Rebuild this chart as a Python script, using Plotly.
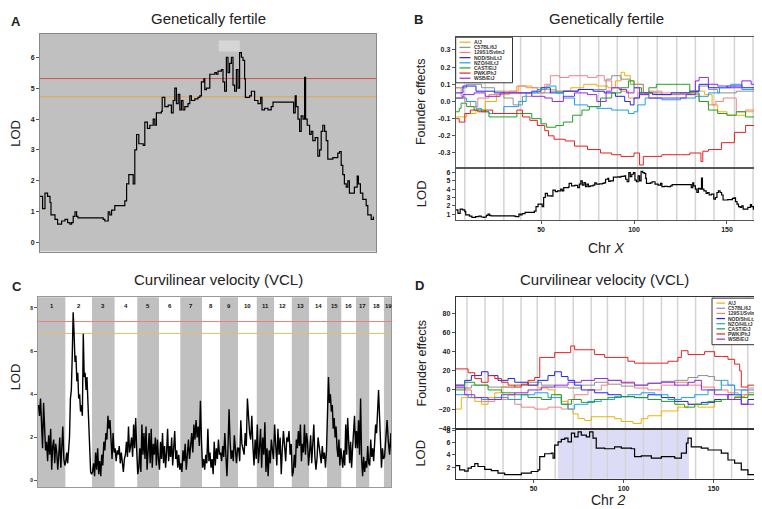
import plotly.graph_objects as go

W, H = 762, 509
FONT = "Liberation Sans"

# ---------------- Chr X LOD scan (Genetically fertile) : panels A and B ----------------
chrx_pos = [4.0, 5.3, 6.5, 7.8, 9.0, 9.5, 11.5, 12.8, 14.8, 16.5,
            17.8, 19.0, 19.8, 20.6, 21.5, 22.3, 23.0, 35.6, 36.4, 38.1,
            38.9, 39.8, 41.4, 45.6, 46.4, 47.3, 48.4, 49.8, 50.6, 51.4,
            52.3, 53.4, 55.6, 56.4, 57.7, 58.9, 60.6, 61.4, 62.2, 64.7,
            65.1, 66.4, 68.1, 69.7, 70.6, 71.4, 72.2, 73.1, 73.9, 74.7,
            75.5, 76.4, 78.0, 78.9, 79.7, 81.4, 83.0, 83.9, 84.7, 85.9,
            86.4, 87.2, 88.9, 91.4, 92.2, 93.0, 94.7, 95.5, 96.3, 97.2,
            98.0, 98.8, 99.7, 100.5, 101.3, 102.2, 103.0, 103.8, 104.7, 105.5,
            106.3, 106.7, 107.2, 108.8, 109.7, 111.3, 113.0, 114.3, 115.0, 116.3,
            118.0, 119.6, 120.5, 123.8, 130.5, 130.8, 131.6, 132.1, 133.0, 133.8,
            134.6, 135.5, 136.3, 136.8, 137.6, 138.8, 139.6, 140.4, 141.6, 142.9,
            143.8, 144.6, 145.4, 146.3, 147.1, 147.9, 150.4, 152.9, 153.8, 154.6,
            155.4, 156.2, 157.1, 157.9, 158.7, 160.4, 161.2, 162.6, 163.2, 164.2,
            165.4, 167.1, 167.9, 169.6, 170.7]
chrx_lod = [1.5, 1.1, 1.6, 1.5, 1.3, 0.9, 0.75, 0.6, 0.7, 0.75,
            0.65, 0.6, 0.65, 0.85, 1.0, 0.85, 0.8, 0.75, 0.7, 1.0,
            0.9, 1.05, 1.2, 1.2, 1.35, 1.9, 2.2, 2.2, 1.9, 3.0,
            3.5, 3.2, 3.15, 3.9, 3.7, 3.8, 4.0, 3.8, 4.2, 4.25,
            4.7, 4.4, 4.45, 4.2, 4.6, 5.0, 4.5, 4.8, 4.3, 4.6,
            4.3, 4.4, 4.5, 4.75, 4.6, 4.65, 4.7, 4.75, 5.2, 5.3,
            4.95, 5.0, 5.45, 5.5, 5.45, 5.55, 5.6, 5.2, 4.9, 6.0,
            5.5, 5.8, 6.0, 5.1, 4.9, 5.6, 5.0, 6.15, 6.0, 5.9,
            5.3, 4.7, 4.7, 4.75, 4.9, 4.6, 4.5, 4.7, 4.3, 4.35,
            4.3, 4.4, 4.55, 4.55, 4.55, 4.2, 4.75, 4.4, 4.0, 3.6,
            4.1, 4.0, 5.35, 4.0, 3.8, 3.5, 3.6, 3.3, 3.4, 2.8,
            3.0, 3.6, 3.8, 3.6, 3.3, 2.7, 2.75, 2.9, 2.95, 2.5,
            2.2, 1.9, 1.8, 2.0, 1.6, 1.6, 1.8, 2.15, 1.9, 1.6,
            1.4, 1.2, 0.9, 0.75, 0.85]
a_thresholds = [5.31, 4.72]          # red, orange
a_peak_box = [93.4, 103.9, 6.19, 6.54]

founders = ["A/J", "C57BL/6J", "129S1/SvImJ", "NOD/ShiLtJ", "NZO/HlLtJ", "CAST/EiJ", "PWK/PhJ", "WSB/EiJ"]
founder_colors = ["#F2B000", "#909090", "#F08080", "#2222E6", "#1AA0F0", "#22A022", "#E62020", "#9428E0"]

# Founder effects on Chr X (panel B)
bx_aj = [4, 10, 15, 20, 26, 33, 38, 45, 52, 58, 66, 73, 80, 86, 90, 93, 95, 98, 100, 105, 112, 125, 132, 138, 142, 145, 150, 155, 160, 165, 172]
by_aj = [-0.09, -0.07, -0.05, 0.0, 0.04, 0.06, 0.09, 0.08, 0.07, 0.06, 0.08, 0.1, 0.09, 0.08, 0.12, 0.17, 0.15, 0.12, 0.1, 0.05, 0.04, 0.05, 0.06, 0.04, -0.02, -0.06, -0.08, -0.08, -0.06, -0.04, -0.03]
bx_b6 = [4, 10, 18, 25, 30, 35, 40, 45, 55, 70, 80, 85, 88, 93, 98, 105, 115, 125, 130, 135, 140, 145, 155, 165, 172]
by_b6 = [0.08, 0.1, 0.08, 0.06, 0.02, -0.02, 0.03, 0.05, 0.06, 0.07, 0.07, 0.13, 0.15, 0.13, 0.1, 0.05, 0.04, 0.04, 0.06, 0.09, 0.07, 0.05, 0.06, 0.04, 0.03]
bx_129 = [4, 7, 9, 12, 16, 22, 30, 37, 42, 48, 52, 55, 60, 65, 75, 80, 84, 88, 93, 97, 102, 108, 115, 125, 130, 135, 140, 144, 148, 153, 155, 160, 165, 172]
by_129 = [0.08, 0.03, 0.0, -0.03, 0.02, 0.04, 0.06, 0.09, 0.08, 0.05, 0.1, 0.15, 0.14, 0.15, 0.14, 0.15, 0.12, 0.08, 0.06, 0.02, 0.05, 0.06, 0.05, 0.05, 0.04, 0.0, -0.02, 0.0, 0.02, 0.02, -0.06, -0.05, -0.06, -0.03]
bx_nod = [4, 8, 15, 25, 35, 45, 50, 55, 62, 70, 78, 84, 90, 95, 98, 100, 103, 110, 120, 130, 135, 140, 150, 158, 165, 172]
by_nod = [0.05, 0.09, 0.06, 0.05, 0.05, 0.06, 0.08, 0.05, 0.06, 0.07, 0.06, 0.05, 0.03, 0.0, -0.02, 0.02, 0.05, 0.04, 0.05, 0.06, 0.1, 0.08, 0.09, 0.08, 0.06, 0.05]
bx_nzo = [4, 10, 15, 18, 22, 30, 38, 42, 48, 53, 58, 62, 68, 75, 80, 88, 93, 97, 100, 102, 106, 115, 125, 133, 140, 146, 152, 158, 165, 172]
by_nzo = [0.02, 0.0, -0.04, -0.06, -0.07, -0.03, 0.0, 0.05, 0.07, 0.09, 0.05, 0.02, -0.02, -0.03, -0.04, -0.05, -0.05, -0.07, -0.06, -0.02, 0.02, 0.01, 0.02, 0.03, 0.05, 0.08, 0.1, 0.07, 0.04, 0.02]
bx_cast = [4, 6, 7, 10, 14, 20, 22, 37, 45, 50, 53, 58, 62, 67, 72, 76, 82, 88, 93, 97, 100, 104, 108, 112, 125, 130, 135, 140, 145, 150, 155, 160, 165, 172]
by_cast = [-0.06, -0.04, -0.01, -0.03, -0.05, -0.06, -0.09, -0.07, -0.1, -0.13, -0.15, -0.14, -0.12, -0.08, -0.05, -0.03, 0.02, 0.05, 0.08, 0.12, 0.08, 0.04, 0.08, 0.1, 0.1, 0.05, 0.0, -0.05, -0.07, -0.08, -0.06, -0.09, -0.05, -0.04]
bx_pwk = [4, 6, 9, 12, 16, 20, 24, 37, 40, 44, 48, 52, 54, 57, 63, 68, 75, 82, 88, 93, 100, 103, 105, 108, 115, 125, 130, 136, 137, 140, 147, 154, 160, 165, 170, 172]
by_pwk = [-0.1, -0.12, -0.07, -0.05, -0.06, -0.05, -0.07, -0.05, -0.09, -0.11, -0.14, -0.17, -0.2, -0.22, -0.23, -0.26, -0.28, -0.3, -0.31, -0.32, -0.3, -0.37, -0.32, -0.32, -0.31, -0.31, -0.3, -0.35, -0.29, -0.28, -0.24, -0.18, -0.14, -0.15, -0.1, -0.09]
bx_wsb = [4, 8, 14, 20, 28, 38, 45, 52, 56, 62, 68, 75, 80, 85, 88, 92, 96, 100, 103, 108, 120, 128, 133, 135, 140, 145, 150, 158, 163, 168, 172]
by_wsb = [0.02, 0.04, 0.05, 0.03, 0.05, 0.05, 0.03, 0.02, 0.0, 0.03, 0.05, 0.04, 0.0, 0.06, 0.08, 0.07, 0.05, 0.08, 0.04, 0.02, 0.02, 0.04, 0.12, 0.14, 0.1, 0.09, 0.08, 0.12, 0.1, 0.07, 0.07]
b_marker_lines = [9, 20, 30, 39, 50, 60, 71, 81, 91, 102, 112.5, 123, 133, 143, 154, 164]

# ---------------- Genome scan (Curvilinear velocity) : panel C ----------------
chr_names = [str(i) for i in range(1, 20)]
chr_len = [190, 185, 157, 157, 151, 148, 151, 125, 125, 130, 120, 123, 120, 125, 99, 102, 92, 102, 61]
lod_c1 = [3.5, 3.0, 3.8, 2.6, 1.5, 3.6, 2.0, 1.4, 1.8, 0.9, 2.1, 1.2, 2.4, 0.5, 1.6, 1.9, 0.8, 1.7, 1.3, 0.5, 1.2, 2.0, 0.6, 1.4, 2.5, 1.0, 0.7]
lod_c2 = [0.9, 1.3, 0.8, 1.4, 2.0, 3.8, 4.2, 5.8, 7.8, 6.8, 5.5, 5.8, 4.6, 5.0, 3.8, 4.0, 3.2, 3.5, 3.0, 6.8, 4.8, 5.0, 4.2, 4.8, 3.8, 2.5, 1.2, 0.4, 0.3]
lod_c3 = [0.4, 0.8, 0.2, 1.3, 0.5, 1.5, 0.3, 0.9, 0.2, 1.2, 0.7, 1.8, 1.4, 2.2, 1.9, 3.0, 2.4, 2.8, 1.6, 1.0, 2.2, 1.3]
lod_c4 = [1.5, 0.9, 1.4, 1.2, 1.6, 0.8, 1.3, 0.6, 0.4, 1.0, 1.2, 1.8, 1.1, 2.5, 1.3, 1.6, 2.0, 1.1, 2.6, 1.5, 2.9, 1.4]
lod_c5 = [0.3, 0.6, 1.5, 0.4, 2.6, 1.2, 2.2, 1.0, 2.5, 0.5, 1.3, 2.2, 0.8, 2.4, 0.6, 1.7, 1.2, 2.0, 0.7, 1.9, 1.0]
lod_c6 = [0.5, 1.8, 1.0, 2.2, 0.8, 1.6, 0.6, 1.3, 2.4, 0.9, 1.6, 1.1, 2.0, 0.7, 1.5, 2.3, 1.0, 1.4, 0.6, 1.2, 0.5]
lod_c7 = [0.8, 0.4, 1.4, 0.9, 1.7, 0.5, 1.2, 1.9, 1.0, 1.6, 2.2, 1.3, 2.6, 1.9, 2.8, 2.0, 2.5, 1.6, 3.7, 1.8]
lod_c8 = [0.6, 1.0, 0.5, 1.2, 0.8, 2.4, 0.9, 1.3, 0.6, 1.0, 0.3, 1.8, 0.7, 1.5, 1.0, 1.9, 1.2]
lod_c9 = [1.3, 0.9, 1.6, 1.1, 2.2, 1.2, 0.2, 1.5, 3.3, 1.8, 1.0, 1.4, 0.9, 2.1, 1.3, 0.8, 1.5]
lod_c10 = [1.5, 0.9, 2.8, 1.7, 1.4, 1.2, 2.2, 1.6, 3.8, 2.8, 2.2, 1.9, 3.0, 1.6, 0.7, 1.9, 1.0]
lod_c11 = [2.6, 0.8, 1.5, 2.4, 0.6, 2.0, 1.2, 2.7, 0.4, 1.5, 0.2, 1.4, 0.8, 1.9, 1.4, 1.0]
lod_c12 = [2.6, 1.8, 0.7, 2.4, 1.2, 2.0, 0.3, 1.5, 2.3, 1.6, 0.9, 2.0, 1.8, 2.3, 1.2, 1.7]
lod_c13 = [0.2, 0.4, 1.2, 0.6, 1.9, 1.5, 2.3, 1.6, 2.6, 0.9, 1.7, 1.3, 2.6, 1.2, 2.2, 1.8, 0.7]
lod_c14 = [1.3, 2.1, 0.8, 1.9, 2.6, 1.1, 0.5, 1.0, 2.0, 1.6, 1.2, 0.8, 1.6, 1.0, 1.3, 0.6, 1.4]
lod_c15 = [3.0, 4.8, 3.6, 4.0, 3.2, 3.5, 2.4, 2.9, 2.0, 2.5, 1.5, 1.1, 1.9, 0.7, 1.5]
lod_c16 = [1.0, 0.6, 1.4, 0.7, 2.6, 1.2, 2.9, 1.3, 0.8, 1.8, 0.6, 1.5, 2.4, 3.0, 1.5]
lod_c17 = [2.3, 1.5, 2.8, 1.2, 3.8, 1.0, 0.2, 1.1, 0.4, 0.9, 0.6, 1.6, 0.8]
lod_c18 = [0.7, 1.9, 1.1, 1.5, 0.9, 2.0, 2.6, 2.2, 3.2, 4.2, 3.0, 2.1, 0.6, 1.5, 1.0]
lod_c19 = [1.1, 2.0, 2.8, 1.8, 1.2, 2.2, 1.0]
c_lods = [lod_c1, lod_c2, lod_c3, lod_c4, lod_c5, lod_c6, lod_c7, lod_c8, lod_c9, lod_c10,
          lod_c11, lod_c12, lod_c13, lod_c14, lod_c15, lod_c16, lod_c17, lod_c18, lod_c19]
c_thresholds = [7.37, 6.82]
c_xmax = 2451

# ---------------- Chr 2 (Curvilinear velocity) : panel D ----------------
d2_pos = [6.7, 8.9, 11.7, 13.6, 15.4, 17.3, 19.1, 22.8, 26.5, 30.2,
          33.9, 39.5, 43.2, 48.7, 52.4, 53.4, 56.1, 59.8, 60.8, 61.7,
          63.6, 65.4, 67.3, 69.1, 71.0, 72.8, 74.7, 76.5, 79.3, 81.1,
          83.0, 84.8, 89.5, 95.0, 98.7, 104.3, 106.1, 109.8, 115.4, 121.0,
          128.4, 132.1, 134.9, 135.8, 137.6, 143.2, 146.9, 150.6, 154.3, 158.0,
          161.7, 165.4, 169.1, 172.8, 180.8]
d2_lod = [2.3, 1.6, 1.4, 1.9, 2.15, 2.6, 2.15, 1.7, 1.5, 1.1,
          0.85, 0.85, 1.1, 1.35, 1.6, 3.75, 4.2, 4.3, 3.5, 5.6,
          6.1, 6.5, 6.7, 6.1, 7.5, 6.9, 7.7, 7.2, 6.9, 7.7,
          6.7, 5.1, 5.0, 5.3, 5.1, 5.0, 3.75, 3.85, 3.5, 3.75,
          3.5, 4.3, 5.9, 6.7, 5.3, 5.1, 4.8, 4.8, 4.3, 3.2,
          2.7, 1.6, 0.85, 0.6, 0.6]
d_interval = [63.5, 136.3]
dx_aj = [6.7, 9.8, 17.3, 21.0, 24.7, 28.4, 32.1, 39.5, 46.9, 52.4, 58.0, 61.7, 65.4, 69.1, 71.9, 74.7, 78.4, 82.1, 89.5, 95.0, 98.7, 105.2, 109.8, 113.5, 121.0, 130.2, 135.8, 141.3, 146.0, 150.6, 154.3, 161.7, 167.3, 172.8, 180.8]
dy_aj = [-20, -8, -12, -15, -8, -3, 3, 5, 5, 2, 0, -5, -12, -20, -25, -30, -32, -28, -28, -30, -33, -35, -30, -27, -22, -18, -15, -18, -18, -12, -10, -7, -5, -2, 0]
dx_b6 = [6.7, 15.4, 24.7, 39.5, 46.9, 54.3, 61.7, 69.1, 76.5, 83.9, 91.3, 98.7, 106.1, 113.5, 121.0, 128.4, 135.8, 141.3, 146.9, 150.6, 154.3, 161.7, 169.1, 172.8, 180.8]
dy_b6 = [2, 5, 3, 5, 8, 5, 3, 2, 5, 8, 6, 4, 5, 7, 9, 10, 13, 15, 14, 10, 5, 0, -3, 0, 3]
dx_129 = [6.7, 11.7, 15.4, 21.0, 28.4, 35.8, 39.5, 43.2, 50.6, 58.0, 65.4, 69.1, 72.8, 80.2, 87.6, 91.3, 98.7, 106.1, 113.5, 121.0, 128.4, 135.8, 143.2, 150.6, 158.0, 163.6, 169.1, 176.5, 180.8]
dy_129 = [5, 0, -8, -12, -10, -5, -15, -18, -20, -18, -20, -10, -5, 0, 5, 10, 7, 2, 0, 5, 8, 5, 3, 0, -3, -5, 2, 5, 8]
dx_nod = [6.7, 11.7, 15.4, 21.0, 24.7, 30.2, 35.8, 39.5, 46.9, 52.4, 58.0, 61.7, 65.4, 69.1, 72.8, 76.5, 83.9, 91.3, 98.7, 106.1, 113.5, 121.0, 128.4, 135.8, 143.2, 150.6, 158.0, 165.4, 169.1, 172.8, 174.7, 180.8]
dy_nod = [5, 10, 15, 19, 15, 10, 12, 8, 5, 10, 15, 19, 14, 10, 5, 0, -3, -5, -7, -8, -5, -8, -12, -15, -13, -10, -5, -15, -10, 5, 10, 3]
dx_nzo = [6.7, 13.6, 21.0, 28.4, 35.8, 43.2, 50.6, 58.0, 65.4, 69.1, 72.8, 80.2, 87.6, 95.0, 102.4, 109.8, 117.3, 124.7, 132.1, 139.5, 146.9, 154.3, 158.0, 161.7, 165.4, 172.8, 180.8]
dy_nzo = [-5, -8, -10, -8, -10, -5, -3, -8, -15, -20, -15, -12, -10, -7, -5, -3, -5, -10, -8, -5, 0, 10, 5, -5, 0, -5, 5]
dx_cast = [6.7, 11.7, 17.3, 24.7, 32.1, 39.5, 46.9, 54.3, 59.8, 65.4, 71.0, 76.5, 83.9, 91.3, 98.7, 106.1, 113.5, 121.0, 128.4, 133.9, 139.5, 146.9, 154.3, 161.7, 169.1, 180.8]
dy_cast = [0, 8, 5, 0, -3, -5, -8, -10, -5, -15, -10, -13, -10, -8, -7, -8, -10, -12, -15, -18, -15, -12, -10, -8, -5, -3]
dx_pwk = [6.7, 13.6, 17.3, 21.0, 24.7, 28.4, 32.1, 35.8, 39.5, 43.2, 46.9, 50.6, 53.4, 61.7, 69.1, 70.6, 72.8, 80.2, 83.9, 89.5, 98.7, 102.4, 106.1, 121.0, 124.7, 128.4, 130.2, 132.1, 135.8, 143.2, 145.0, 150.6, 154.3, 158.0, 161.7, 164.5, 165.4, 169.1, 172.8, 176.5, 180.8]
dy_pwk = [22, 18, 12, 8, 15, 12, 8, 5, 3, 6, 10, 13, 34, 39, 39, 46, 42, 42, 37, 34, 34, 30, 28, 28, 30, 30, 34, 41, 37, 37, 40, 35, 35, 32, 27, 20, 3, 5, 1, 4, 2]
dx_wsb = [6.7, 11.7, 17.3, 24.7, 32.1, 39.5, 46.9, 54.3, 61.7, 69.1, 76.5, 83.9, 91.3, 98.7, 106.1, 113.5, 121.0, 128.4, 135.8, 139.5, 143.2, 150.6, 158.0, 165.4, 172.8, 180.8]
dy_wsb = [3, -5, -8, -10, -5, -3, 0, 3, 5, 8, 10, 12, 10, 8, 5, 7, 8, 5, 8, 10, 0, -5, -10, -15, -10, -8]
d_marker_lines = [13, 23, 33, 43, 52, 62, 72, 82, 91, 101, 111, 121, 130, 140, 150, 160, 169, 178]

b_series = [(bx_aj, by_aj), (bx_b6, by_b6), (bx_129, by_129), (bx_nod, by_nod),
            (bx_nzo, by_nzo), (bx_cast, by_cast), (bx_pwk, by_pwk), (bx_wsb, by_wsb)]
d_series = [(dx_aj, dy_aj), (dx_b6, dy_b6), (dx_129, dy_129), (dx_nod, dy_nod),
            (dx_nzo, dy_nzo), (dx_cast, dy_cast), (dx_pwk, dy_pwk), (dx_wsb, dy_wsb)]


def fx(p):
    return p / W


def fy(p):
    return 1 - p / H


fig = go.Figure()

# ---- Panel A ----
fig.add_trace(go.Scatter(x=chrx_pos, y=chrx_lod, mode="lines", line=dict(color="black", width=1.2, shape="hv"),
                         xaxis="x", yaxis="y", showlegend=False))
# ---- Panel B ----
for (xs, ys), col, name in zip(b_series, founder_colors, founders):
    fig.add_trace(go.Scatter(x=xs, y=ys, mode="lines", name=name, line=dict(color=col, width=1, shape="hv"),
                             xaxis="x2", yaxis="y2", showlegend=False))
fig.add_trace(go.Scatter(x=chrx_pos, y=chrx_lod, mode="lines", line=dict(color="black", width=1.2, shape="hv"),
                         xaxis="x3", yaxis="y3", showlegend=False))
# ---- Panel C ----
cx, cy = [], []
start = 0
starts = []
for L, vals in zip(chr_len, c_lods):
    starts.append(start)
    n = len(vals)
    for i, v in enumerate(vals):
        cx.append(start + (i + 0.5) * L / n)
        cy.append(v)
    start += L
fig.add_trace(go.Scatter(x=cx, y=cy, mode="lines", line=dict(color="black", width=1.4),
                         xaxis="x4", yaxis="y4", showlegend=False))
# ---- Panel D ----
for (xs, ys), col, name in zip(d_series, founder_colors, founders):
    fig.add_trace(go.Scatter(x=xs, y=ys, mode="lines", name=name, line=dict(color=col, width=1, shape="hv"),
                             xaxis="x5", yaxis="y5", showlegend=False))
fig.add_trace(go.Scatter(x=d2_pos, y=d2_lod, mode="lines", line=dict(color="black", width=1.2, shape="hv"),
                         xaxis="x6", yaxis="y6", showlegend=False))

tickf = dict(family=FONT, size=7, color="#222", weight="bold")


def axis(domain, rng, anchor, linecolor="#555", **kw):
    d = dict(domain=domain, range=rng, anchor=anchor, showgrid=False, zeroline=False,
             showline=True, mirror=True, linecolor=linecolor, linewidth=1,
             tickfont=tickf, ticks="outside", ticklen=3, tickcolor="#555")
    d.update(kw)
    return d


xdomB = [fx(447.7), fx(761)]
layout_axes = dict(
    xaxis=axis([fx(32), fx(368)], [4, 172], "y", linecolor="#888", showticklabels=False, ticks=""),
    yaxis=axis([fy(243), fy(23)], [-0.29, 6.76], "x", linecolor="#888", tickvals=[0, 1, 2, 3, 4, 5, 6]),
    xaxis2=axis(xdomB, [4.1, 172.6], "y2", showticklabels=False, ticks=""),
    yaxis2=axis([fy(159), fy(26)], [-0.39, 0.377], "x2",
                tickvals=[-0.3, -0.2, -0.1, 0.0, 0.1, 0.2, 0.3],
                ticktext=["-0.3", "-0.2", "-0.1", "0.0", "0.1", "0.2", "0.3"]),
    xaxis3=axis(xdomB, [4.1, 172.6], "y3", tickvals=[50, 100, 150]),
    yaxis3=axis([fy(211), fy(159)], [0.3, 6.5], "x3", tickvals=[1, 2, 3, 4, 5, 6]),
    xaxis4=axis([fx(30), fx(383)], [0, c_xmax], "y4", linecolor="#999", showticklabels=False, ticks=""),
    yaxis4=axis([fy(481), fy(289)], [-0.31, 8.5], "x4", linecolor="#999", tickvals=[0, 2, 4, 6, 8],
                tickfont=dict(family=FONT, size=5, color="#222", weight="bold")),
    xaxis5=axis(xdomB, [6.7, 180.8], "y5", linecolor="#333", showticklabels=False, ticks=""),
    yaxis5=axis([fy(422.3), fy(289)], [-41, 97], "x5", linecolor="#333",
                tickvals=[-40, -20, 0, 20, 40, 60, 80]),
    xaxis6=axis(xdomB, [6.7, 180.8], "y6", linecolor="#333", tickvals=[50, 100, 150]),
    yaxis6=axis([fy(472.3), fy(422.3)], [0.2, 8.15], "x6", linecolor="#333", tickvals=[2, 4, 6, 8]),
)

shapes = []
# panel A grey background + peak box + thresholds
shapes.append(dict(type="rect", xref="x domain", yref="y domain", x0=0, x1=1, y0=0, y1=1,
                   fillcolor="#c0c0c0", line=dict(width=0), layer="below"))
shapes.append(dict(type="rect", xref="x", yref="y", x0=a_peak_box[0], x1=a_peak_box[1],
                   y0=a_peak_box[2], y1=a_peak_box[3], fillcolor="#d6d6d6", line=dict(width=0), layer="below"))
for v, col in zip(a_thresholds, ["#d9534f", "#e5a64a"]):
    shapes.append(dict(type="line", xref="x domain", yref="y", x0=0, x1=1, y0=v, y1=v,
                       line=dict(color=col, width=1), layer="below"))
# panel B marker lines
for m in b_marker_lines:
    shapes.append(dict(type="line", xref="x2", yref="paper", x0=m, x1=m, y0=fy(211), y1=fy(26),
                       line=dict(color="#d4d4d4", width=1.5), layer="below"))
# panel C chromosome bands
for k, (s, L) in enumerate(zip(starts, chr_len)):
    if k % 2 == 0:
        shapes.append(dict(type="rect", xref="x4", yref="y4 domain", x0=s, x1=min(s + L, c_xmax), y0=0, y1=1,
                           fillcolor="#c0c0c0", line=dict(width=0), layer="below"))
for v, col in zip(c_thresholds, ["#e88080", "#dcc070"]):
    shapes.append(dict(type="line", xref="x4 domain", yref="y4", x0=0, x1=1, y0=v, y1=v,
                       line=dict(color=col, width=1), layer="below"))
# panel D marker lines and interval
shapes.append(dict(type="rect", xref="x6", yref="y6 domain", x0=d_interval[0], x1=d_interval[1], y0=0, y1=1,
                   fillcolor="#dcdcf6", line=dict(width=0), layer="below"))
for m in d_marker_lines:
    shapes.append(dict(type="line", xref="x5", yref="paper", x0=m, x1=m, y0=fy(472.3), y1=fy(289),
                       line=dict(color="#d4d4d4", width=1.5), layer="below"))

annotations = []


def text(x, y, s, size, bold=False, angle=0, xanchor="center", color="#222"):
    annotations.append(dict(xref="paper", yref="paper", x=fx(x), y=fy(y), text=s, showarrow=False,
                            xanchor=xanchor, yanchor="middle", textangle=angle, borderpad=0,
                            font=dict(family=FONT, size=size, color=color, weight="bold" if bold else "normal")))


# legends (drawn manually, one per founder panel)
def legend(box, line_x, text_x, y0, dy):
    shapes.append(dict(type="rect", xref="paper", yref="paper", x0=fx(box[0]), x1=fx(box[1]),
                       y0=fy(box[3]), y1=fy(box[2]), fillcolor="white", line=dict(color="#333", width=1)))
    for i, (name, col) in enumerate(zip(founders, founder_colors)):
        yy = y0 + i * dy
        shapes.append(dict(type="line", xref="paper", yref="paper", x0=fx(line_x[0]), x1=fx(line_x[1]),
                           y0=fy(yy), y1=fy(yy), line=dict(color=col, width=1.2)))
        text(text_x, yy, name, 5, bold=True, xanchor="left", color="#333")


legend([447.7, 504.5, 26.5, 72.5], [451.5, 462.5], 465, 31.5, 5.2)
legend([704, 761, 290, 337], [708.5, 717], 719, 295, 5.2)

# panel letters and titles
text(8, 11, "A", 13, bold=True)
text(410, 9, "B", 13, bold=True)
text(9, 278, "C", 13, bold=True)
text(411, 277, "D", 13, bold=True)
text(200, 8, "Genetically fertile", 15)
text(598, 8, "Genetically fertile", 15)
text(210, 271, "Curvilinear velocity (VCL)", 15)
text(596, 271, "Curvilinear velocity (VCL)", 15)
# axis titles
text(8, 124, "LOD", 13, angle=-90)
text(413, 92, "Founder effects", 12.5, angle=-90)
text(413, 185, "LOD", 13, angle=-90)
text(7, 370, "LOD", 13, angle=-90)
text(414, 356, "Founder effects", 12.5, angle=-90)
text(413, 447, "LOD", 13, angle=-90)
text(598, 239, "Chr <i>X</i>", 14)
text(600, 494, "Chr <i>2</i>", 14)
# chromosome labels panel C
for s, L, nm in zip(starts, chr_len, chr_names):
    mid = s + L / 2
    if mid < c_xmax:
        annotations.append(dict(xref="x4", yref="paper", x=mid, y=fy(298), text=nm, showarrow=False,
                                font=dict(family=FONT, size=6, color="#111", weight="bold")))

fig.update_layout(width=W, height=H, margin=dict(l=0, r=0, t=0, b=0),
                  paper_bgcolor="white", plot_bgcolor="white",
                  font=dict(family=FONT), shapes=shapes, annotations=annotations,
                  showlegend=False, **layout_axes)

fig.write_html("out.html")
